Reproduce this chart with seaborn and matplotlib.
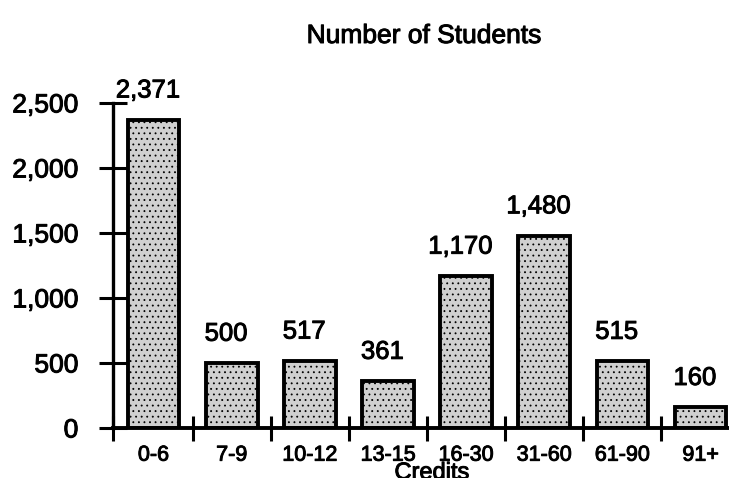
import numpy as np
import pandas as pd
import matplotlib
matplotlib.use("Agg")
import matplotlib.pyplot as plt
import matplotlib.patheffects as pe
import seaborn as sns
from matplotlib.ticker import FuncFormatter

# ─────────────────────────────────────────────
# DATA
# ─────────────────────────────────────────────
credits = ["0-6", "7-9", "10-12", "13-15", "16-30", "31-60", "61-90", "91+"]
students = [2371, 500, 517, 361, 1170, 1480, 515, 160]
y_ticks = [0, 500, 1000, 1500, 2000, 2500]

df = pd.DataFrame({"Credits": credits, "Students": students})

# ─────────────────────────────────────────────
# STYLE
# ─────────────────────────────────────────────
sns.set_theme(style="white")
plt.rcParams["font.family"] = ["Liberation Sans", "DejaVu Sans"]
plt.rcParams["text.color"] = "black"
plt.rcParams["xtick.color"] = "black"
plt.rcParams["ytick.color"] = "black"
plt.rcParams["hatch.linewidth"] = 0.6

# slightly heavier glyphs, like the scanned print
heavy = [pe.withStroke(linewidth=0.7, foreground="black")]

fig = plt.figure(figsize=(7.29, 4.78), dpi=100)
ax = fig.add_axes([0.155, 0.1046, 0.845, 0.680])

sns.barplot(data=df, x="Credits", y="Students", order=credits,
            color="#d0d0d0", width=0.66, ax=ax, zorder=2)
for bar in ax.patches:
    bar.set_edgecolor("black")
    bar.set_linewidth(2.8)
    bar.set_hatch("...")

# value labels above bars
for i, v in enumerate(students):
    ax.annotate(f"{v:,}", xy=(i, v), xytext=(-4, 16),
                textcoords="offset points", ha="center", va="baseline",
                fontsize=18.5, color="black", annotation_clip=False,
                path_effects=heavy)

# axes limits / ticks
ax.set_xlim(-0.52, len(credits) - 0.635)
ax.set_ylim(0, 2500)

pos = np.arange(len(credits))
ax.set_xticks(pos, credits)
ax.set_xticks(np.r_[ax.get_xlim()[0], pos[:-1] + 0.5], minor=True)
ax.tick_params(axis="x", which="major", bottom=True, length=0, pad=12,
               labelsize=15.5, labelcolor="black")
ax.tick_params(axis="x", which="minor", bottom=True, direction="inout",
               length=18, width=2.2, color="black")

ax.set_yticks(y_ticks)
ax.yaxis.set_major_formatter(FuncFormatter(lambda v, p: f"{int(v):,}"))
ax.tick_params(axis="y", left=True, direction="inout", length=20, width=2.2,
               color="black", pad=15, labelsize=19, labelcolor="black")

for lab in ax.get_xticklabels() + ax.get_yticklabels():
    lab.set_path_effects(heavy)

for side in ["top", "right"]:
    ax.spines[side].set_visible(False)
ax.spines["left"].set_linewidth(2.4)
ax.spines["bottom"].set_linewidth(2.8)
ax.spines["left"].set_color("black")
ax.spines["bottom"].set_color("black")
ax.set_xlabel("")
ax.set_ylabel("")
ax.grid(False)

fig.text(424 / 729, 1 - 43 / 478, "Number of Students", ha="center",
         va="baseline", fontsize=19, color="black", path_effects=heavy)
fig.text(432 / 729, -0.002, "Credits", ha="center", va="baseline",
         fontsize=17, color="black", path_effects=heavy)

fig.savefig("out.png", dpi=100, facecolor="white")
plt.close()
